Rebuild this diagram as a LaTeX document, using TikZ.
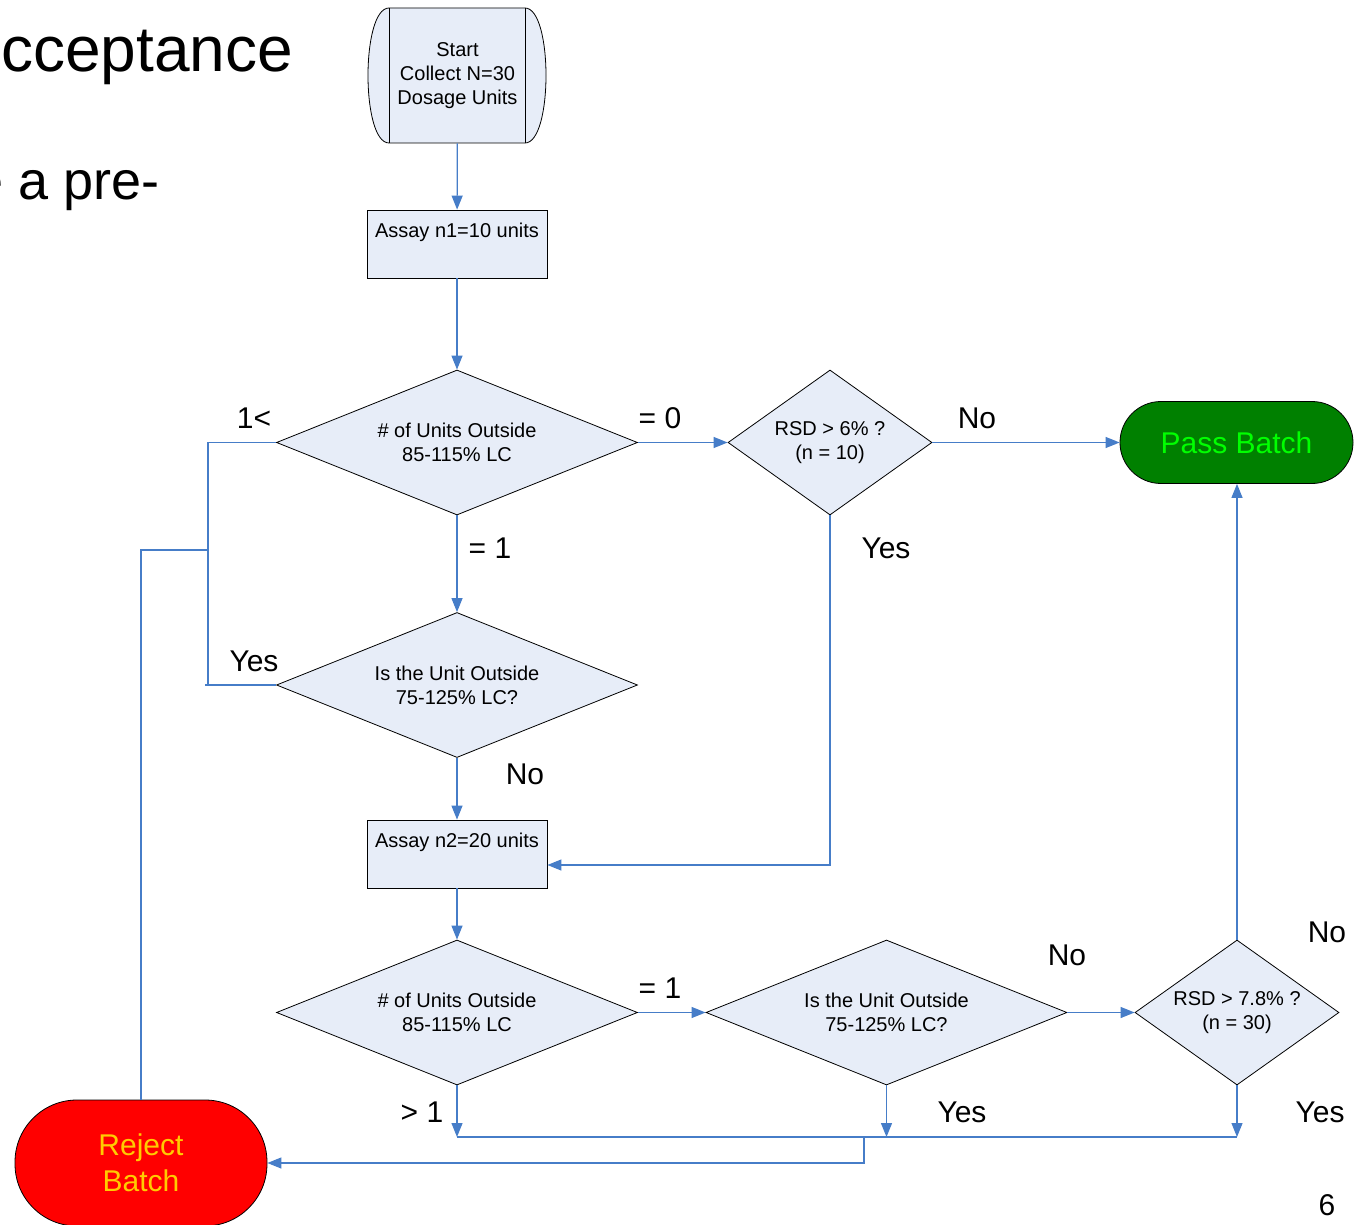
\documentclass[tikz,border=0pt]{standalone}
\usepackage{fontspec}
\setmainfont{Liberation Sans}
\usetikzlibrary{shapes.geometric,arrows.meta,calc}

\definecolor{boxfill}{RGB}{231,237,248}
\definecolor{linkblue}{RGB}{70,125,200}
\definecolor{passgreen}{RGB}{0,128,0}
\definecolor{passtext}{RGB}{0,255,0}
\definecolor{rejectred}{RGB}{255,0,0}
\definecolor{rejecttext}{RGB}{255,204,0}

\tikzset{
  flow/.style={draw=linkblue, line width=0.6pt},
  tip/.style={-{Triangle[length=7pt,width=5.5pt]}},
  smalltext/.style={font=\fontsize{10}{12}\selectfont, align=center},
  decision/.style={diamond, draw=black, line width=0.4pt, fill=boxfill,
    inner sep=0pt, smalltext},
  widedec/.style={decision, minimum width=180.5pt, minimum height=72.5pt, shape aspect=2.49},
  narrowdec/.style={decision, minimum width=102pt, minimum height=72.5pt, shape aspect=1.41},
  process/.style={rectangle, draw=black, line width=0.4pt, fill=boxfill,
    minimum width=90pt, minimum height=34pt, inner sep=0pt},
  proclabel/.style={anchor=north, inner sep=0pt, yshift=-6.5pt, smalltext},
  branch/.style={font=\fontsize{15}{18}\selectfont, inner sep=0pt},
  slidetext/.style={anchor=base west, inner sep=0pt}
}

\begin{document}
\begin{tikzpicture}[x=0.5pt, y=-0.5pt]
\useasboundingbox (0,0) rectangle (1361,1225);
\clip (0,0) rectangle (1361,1225);
\fill[white] (0,0) rectangle (1361,1225);

% slide text behind the chart
\node[slidetext, font=\fontsize{32}{38}\selectfont] (title) at (1,72) {cceptance};
\node[slidetext, font=\fontsize{27}{32}\selectfont] (bullet) at (-27,200) {e a pre-};
\node[branch] (pageno) at (1327,1205) {6};

% start terminal: box with rounded side caps
\fill[boxfill] (389,8) -- (525,8) .. controls (553,8) and (553,143) .. (525,143)
  -- (389,143) .. controls (361,143) and (361,8) .. (389,8) -- cycle;
\draw[line width=0.4pt] (389,8) -- (525,8) .. controls (553,8) and (553,143) .. (525,143)
  -- (389,143) .. controls (361,143) and (361,8) .. (389,8) -- cycle;
\draw[line width=0.4pt] (389,8) -- (389,143) (525,8) -- (525,143);
\node[smalltext, minimum width=89.5pt, minimum height=67.5pt, inner sep=0pt]
  (start) at (457.5,75.5) {Start\\Collect N=30\\Dosage Units};

% process boxes
\node[process, label={[proclabel]north:Assay n1=10 units}] (a1) at (457,244) {};
\node[process, label={[proclabel]north:Assay n2=20 units}] (a2) at (457,854) {};

% decisions
\node[widedec] (d1) at (457,442.5) {\# of Units Outside\\85-115\% LC};
\node[narrowdec] (d2) at (830,442.5) {RSD > 6\% ?\\(n = 10)};
\node[widedec] (d3) at (457,685) {Is the Unit Outside\\75-125\% LC?};
\node[widedec] (d4) at (457,1012.5) {\# of Units Outside\\85-115\% LC};
\node[widedec] (d5) at (886.5,1012.5) {Is the Unit Outside\\75-125\% LC?};
\node[narrowdec] (d6) at (1237,1012.5) {RSD > 7.8\% ?\\(n = 30)};

% outcomes
\node[rectangle, rounded corners=20.5pt, draw=black, line width=0.4pt, fill=passgreen,
  minimum width=116.5pt, minimum height=41pt, text=passtext,
  font=\fontsize{15}{18}\selectfont] (pass) at (1236.5,442.5) {Pass Batch};
\node[rectangle, rounded corners=31pt, draw=black, line width=0.4pt, fill=rejectred,
  minimum width=126pt, minimum height=63pt, text=rejecttext, align=center,
  font=\fontsize{15}{18}\selectfont] (reject) at (141,1163) {Reject\\Batch};

% junction points
\coordinate (bus) at (864,1137);
\coordinate (leftbus) at (208,550);

% connectors
\draw[flow,tip] (start) -- (a1);
\draw[flow,tip] (a1) -- (d1);
\draw[flow,tip] (d1) -- (d2);
\draw[flow,tip] (d2) -- (pass);
\draw[flow,tip] (d1) -- (d3);
\draw[flow,tip] (d3) -- (a2);
\draw[flow,tip] (d2.south) |- ([yshift=-5.5pt]a2.east);
\draw[flow,tip] (a2) -- (d4);
\draw[flow,tip] (d4) -- (d5);
\draw[flow,tip] (d5) -- (d6);
\draw[flow,tip] (d6.north) -- (d6.north |- pass.south);

\draw[flow] (d1.west) -| (208,685);
\draw[flow] (205,685) -- (d3.west);
\draw[flow] (leftbus) -| (reject.north);

\draw[flow,tip] (d4.south) -- (d4.south |- bus);
\draw[flow,tip] (d5.south) -- (d5.south |- bus);
\draw[flow,tip] (d6.south) -- (d6.south |- bus);
\draw[flow] (d4.south |- bus) -- (d6.south |- bus);
\draw[flow,tip] (bus) |- (reject.east);

% branch labels
\node[branch] at (254,418) {1<};
\node[branch] at (660,418) {= 0};
\node[branch] at (977,418) {No};
\node[branch] at (490,548) {= 1};
\node[branch] at (886,548) {Yes};
\node[branch] at (254,661) {Yes};
\node[branch] at (525,774) {No};
\node[branch] at (660,988) {= 1};
\node[branch] at (1067,955) {No};
\node[branch] at (1327,932) {No};
\node[branch] at (422,1112) {> 1};
\node[branch] at (962,1112) {Yes};
\node[branch] at (1320,1112) {Yes};
\end{tikzpicture}
\end{document}
